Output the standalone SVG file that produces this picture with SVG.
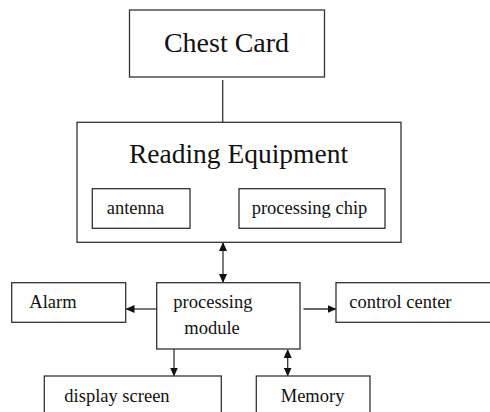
<svg xmlns="http://www.w3.org/2000/svg" width="490" height="412" viewBox="0 0 490 412">
<style>
.box{fill:#fff;stroke:#333;stroke-width:1.3}
.t{font-family:"Times New Roman","Liberation Serif",serif;fill:#111}
.big{font-size:27.5px}
.sm{font-size:18.5px}
.c{stroke:#333;stroke-width:1.3;fill:none}
</style>
<defs>
<marker id="ah" markerWidth="9" markerHeight="8" refX="8" refY="4" orient="auto-start-reverse" markerUnits="userSpaceOnUse">
<path d="M0,0 L9,4 L0,8 z" fill="#111"/>
</marker>
</defs>
<rect width="490" height="412" fill="#fff"/>
<g id="connectors">
<line class="c" x1="222.7" y1="80" x2="222.7" y2="122"/>
<line class="c" x1="191" y1="201" x2="238" y2="201" marker-start="url(#ah)" marker-end="url(#ah)"/>
<line class="c" x1="223" y1="243" x2="223" y2="282" marker-start="url(#ah)" marker-end="url(#ah)"/>
<line class="c" x1="157" y1="309" x2="126.5" y2="309" marker-end="url(#ah)"/>
<line class="c" x1="303.5" y1="309" x2="335.5" y2="309" marker-end="url(#ah)"/>
<line class="c" x1="174" y1="349" x2="174" y2="375.5" marker-end="url(#ah)"/>
<line class="c" x1="287.7" y1="350" x2="287.7" y2="375.5" marker-start="url(#ah)" marker-end="url(#ah)"/>
</g>
<g id="alarm">
<rect class="box" x="11.7" y="282.7" width="114" height="39.6"/>
<text class="t sm" x="29.3" y="308.3">Alarm</text>
</g>
<g id="control-center">
<rect class="box" x="336" y="282.7" width="160" height="39.6"/>
<text class="t sm" x="349.3" y="308.3">control center</text>
</g>
<g id="display-screen">
<rect class="box" x="44.3" y="376" width="177" height="50"/>
<text class="t sm" x="64.3" y="401.7">display screen</text>
</g>
<g id="memory">
<rect class="box" x="256.3" y="376" width="113.7" height="50"/>
<text class="t sm" x="280.7" y="401.7">Memory</text>
</g>
<g id="chest-card">
<rect class="box" x="129.5" y="10" width="195" height="67"/>
<text class="t" x="226.5" y="52" font-size="28" text-anchor="middle">Chest Card</text>
</g>
<g id="reading-equipment">
<rect class="box" x="77" y="122.3" width="324" height="120"/>
<text class="t big" x="238.5" y="163.3" text-anchor="middle">Reading Equipment</text>
</g>
<g id="antenna">
<rect class="box" x="92.3" y="188.7" width="97.7" height="39.6"/>
<text class="t sm" x="106.7" y="214">antenna</text>
</g>
<g id="processing-chip">
<rect class="box" x="239" y="188.7" width="146" height="39.6"/>
<text class="t sm" x="251.7" y="214">processing chip</text>
</g>
<g id="processing-module">
<rect class="box" x="156.7" y="282.7" width="143.3" height="66.3"/>
<text class="t sm" x="173.3" y="308.3">processing</text>
<text class="t sm" x="184.3" y="334">module</text>
</g>
</svg>
